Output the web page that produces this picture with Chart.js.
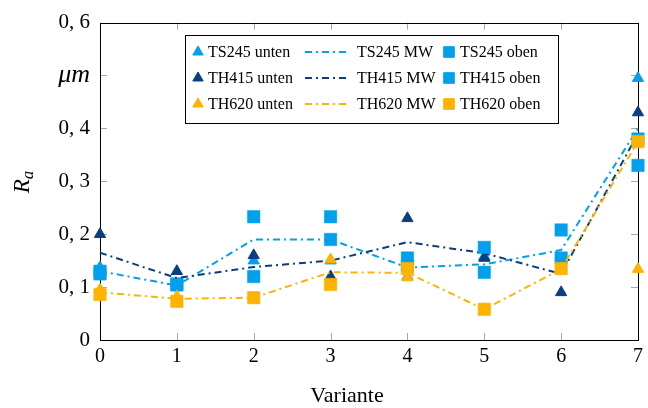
<!DOCTYPE html>
<html>
<head>
<meta charset="utf-8">
<script src="https://cdn.jsdelivr.net/npm/chart.js@4.4.1/dist/chart.umd.min.js"></script>
<style>
  html, body { margin: 0; padding: 0; background: #fff; }
  #wrap { width: 648px; height: 408px; }
</style>
</head>
<body>
<div id="wrap"><canvas id="myChart"></canvas></div>
<script>
// values
const variants = [0, 1, 2, 3, 4, 5, 6, 7];

const ts245Unten = [0.137, 0.100, 0.150, 0.150, 0.120, 0.158, 0.132, 0.495];
const ts245MW    = [0.130, 0.103, 0.190, 0.190, 0.137, 0.143, 0.170, 0.400];
const ts245Oben  = [0.125, 0.106, 0.233, 0.233, 0.155, 0.128, 0.208, 0.330];

const th415Unten = [0.200, 0.130, 0.160, 0.120, 0.230, 0.155, 0.090, 0.430];
const th415MW    = [0.165, 0.117, 0.138, 0.150, 0.185, 0.164, 0.125, 0.390];
const th415Oben  = [0.130, 0.104, 0.120, 0.190, 0.140, 0.175, 0.155, 0.380];

const th620Unten = [0.095, 0.082, 0.080, 0.152, 0.118, 0.058, 0.135, 0.134];
const th620MW    = [0.090, 0.078, 0.080, 0.128, 0.127, 0.058, 0.134, 0.375];
const th620Oben  = [0.086, 0.073, 0.080, 0.105, 0.135, 0.058, 0.135, 0.375];

const yTickValues = [0, 0.1, 0.2, 0.3, 0.4, 0.5, 0.6];
const yTickLabels = ['0', '0, 1', '0, 2', '0, 3', '0, 4', 'μm', '0, 6'];
const xTickValues = [0, 1, 2, 3, 4, 5, 6, 7];

const lightBlue = '#00a0ec';
const darkBlue = '#0a3e80';
const orange = '#fdb300';
const FONT = '"Liberation Serif", "DejaVu Serif", serif';

function pts(arr) {
  return variants.map((x, i) => ({ x: x, y: arr[i] }));
}

function unten(label, arr, color) {
  return { label: label, data: pts(arr), showLine: false, pointStyle: 'triangle',
    pointRadius: 6.5, pointHoverRadius: 6.5, backgroundColor: color, borderColor: color,
    borderWidth: 1, clip: false };
}
function oben(label, arr, color) {
  return { label: label, data: pts(arr), showLine: false, pointStyle: 'rect',
    pointRadius: 8.8, pointHoverRadius: 8.8, backgroundColor: color, borderColor: color,
    borderWidth: 0.5, clip: false };
}
function mw(label, arr, color) {
  return { label: label, data: pts(arr), showLine: true, pointRadius: 0, pointHoverRadius: 0,
    borderColor: color, backgroundColor: color, borderWidth: 2, borderDash: [7, 4, 2, 4],
    tension: 0, clip: false };
}

const datasets = [
  unten('TS245 unten', ts245Unten, lightBlue),
  mw('TS245 MW', ts245MW, lightBlue),
  oben('TS245 oben', ts245Oben, lightBlue),
  unten('TH415 unten', th415Unten, darkBlue),
  mw('TH415 MW', th415MW, darkBlue),
  oben('TH415 oben', th415Oben, lightBlue),
  unten('TH620 unten', th620Unten, orange),
  mw('TH620 MW', th620MW, orange),
  oben('TH620 oben', th620Oben, orange),
];
// later datasets on top, like the original
datasets.forEach((d, i) => { d.order = 100 - i; });

// frame, inward ticks, axis titles and the boxed legend
const decor = {
  id: 'decor',
  beforeDatasetsDraw(chart) {
    const c = chart.ctx, a = chart.chartArea;
    const xs = chart.scales.x, ys = chart.scales.y;
    c.save();
    c.strokeStyle = '#a8a8a8';
    c.lineWidth = 1;
    c.beginPath();
    xTickValues.forEach(v => {
      const px = Math.round(xs.getPixelForValue(v)) + 0.5;
      c.moveTo(px, a.bottom); c.lineTo(px, a.bottom - 7);
      c.moveTo(px, a.top); c.lineTo(px, a.top + 7);
    });
    yTickValues.forEach(v => {
      const py = Math.round(ys.getPixelForValue(v)) + 0.5;
      c.moveTo(a.left, py); c.lineTo(a.left + 7, py);
      c.moveTo(a.right, py); c.lineTo(a.right - 7, py);
    });
    c.stroke();
    c.strokeStyle = '#000';
    c.strokeRect(Math.round(a.left) + 0.5, Math.round(a.top) + 0.5,
      Math.round(a.right - a.left), Math.round(a.bottom - a.top));
    c.restore();
  },
  afterDraw(chart) {
    const c = chart.ctx;
    c.save();
    c.fillStyle = '#000';
    // x title
    c.font = '22px ' + FONT;
    c.textAlign = 'center';
    c.textBaseline = 'alphabetic';
    c.fillText('Variante', 347, 402);
    // y title R_a
    c.translate(29, 182);
    c.rotate(-Math.PI / 2);
    c.textAlign = 'left';
    c.font = 'italic 23px ' + FONT;
    const wR = c.measureText('R').width;
    c.font = 'italic 17px ' + FONT;
    const wa = c.measureText('a').width;
    const x0 = -(wR + wa) / 2;
    c.font = 'italic 23px ' + FONT;
    c.fillText('R', x0, 0);
    c.font = 'italic 17px ' + FONT;
    c.fillText('a', x0 + wR, 4);
    c.restore();

    // legend
    c.save();
    c.fillStyle = '#fff';
    c.fillRect(185, 35, 373, 88);
    c.strokeStyle = '#000';
    c.lineWidth = 1;
    c.strokeRect(185.5, 35.5, 373, 88);
    const rowsY = [52, 78, 104];
    c.font = '16px ' + FONT;
    c.textBaseline = 'middle';
    c.textAlign = 'left';
    chart.data.datasets.forEach((d, i) => {
      const row = Math.floor(i / 3), col = i % 3;
      const y = rowsY[row];
      if (col === 1) {
        c.save();
        c.strokeStyle = d.borderColor;
        c.lineWidth = 2;
        c.setLineDash(d.borderDash);
        c.beginPath(); c.moveTo(305, y); c.lineTo(350, y); c.stroke();
        c.restore();
        c.fillStyle = '#000';
        c.fillText(d.label, 357, y + 1);
      } else {
        const mx = col === 0 ? 198 : 449;
        c.fillStyle = d.backgroundColor;
        c.strokeStyle = d.borderColor;
        Chart.helpers.drawPoint(c, { pointStyle: d.pointStyle,
          radius: col === 0 ? 6 : 7.5, rotation: 0, borderWidth: 1 }, mx, y);
        c.fillStyle = '#000';
        c.fillText(d.label, col === 0 ? 208 : 460, y + 1);
      }
    });
    c.restore();
  }
};

const ctx = document.getElementById('myChart');
const myChart = new Chart(ctx, {
  type: 'scatter',
  data: { datasets: datasets },
  options: {
    responsive: true,
    maintainAspectRatio: false,
    devicePixelRatio: 1,
    animation: false,
    layout: { padding: { top: 17, right: 7, left: 0, bottom: 0 } },
    plugins: { legend: { display: false }, tooltip: { enabled: false } },
    scales: {
      x: {
        type: 'linear', min: 0, max: 7,
        grid: { display: false, drawTicks: false },
        border: { display: false },
        afterBuildTicks: s => { s.ticks = xTickValues.map(v => ({ value: v })); },
        afterFit: s => { s.height = 68; },
        ticks: { padding: 5, color: '#000', font: { family: FONT, size: 20 },
          callback: v => String(v) },
      },
      y: {
        type: 'linear', min: 0, max: 0.6,
        grid: { display: false, drawTicks: false },
        border: { display: false },
        afterBuildTicks: s => { s.ticks = yTickValues.map(v => ({ value: v })); },
        afterFit: s => { s.width = 100; },
        ticks: {
          padding: 10, color: '#000',
          font: c => c.index === 5 ? { family: FONT, size: 26, style: 'italic' } : { family: FONT, size: 21 },
          callback: (v, i) => yTickLabels[i],
        },
      },
    },
  },
  plugins: [decor],
});
</script>
</body>
</html>
